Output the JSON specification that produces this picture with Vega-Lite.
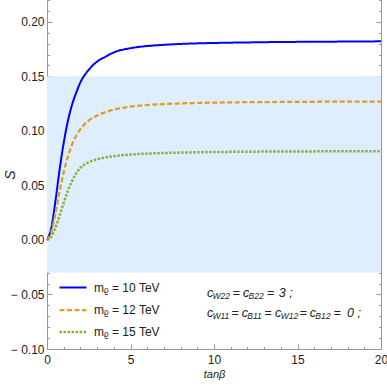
{
  "$schema": "https://vega.github.io/schema/vega-lite/v6.json",
  "width": 334,
  "height": 349,
  "autosize": "none",
  "padding": {"left": 47, "top": 0, "right": 6, "bottom": 38},
  "background": "white",
  "config": {"view": {"stroke": null}, "font": "Liberation Sans"},
  "datasets": {
    "band": [{"x0": 0, "x1": 20, "lo": -0.03, "hi": 0.15}],
    "curves": [
      {"t": 0, "S": 0, "m": "10"}, {"t": 0.25, "S": 0.0105, "m": "10"}, {"t": 0.5, "S": 0.035, "m": "10"}, {"t": 0.75, "S": 0.064, "m": "10"}, {"t": 1, "S": 0.089, "m": "10"}, {"t": 1.25, "S": 0.109, "m": "10"}, {"t": 1.5, "S": 0.124, "m": "10"}, {"t": 1.75, "S": 0.135, "m": "10"}, {"t": 2, "S": 0.1445, "m": "10"}, {"t": 2.5, "S": 0.156, "m": "10"}, {"t": 3, "S": 0.1635, "m": "10"}, {"t": 3.5, "S": 0.168, "m": "10"}, {"t": 4, "S": 0.172, "m": "10"}, {"t": 5, "S": 0.1758, "m": "10"}, {"t": 6, "S": 0.1778, "m": "10"}, {"t": 7, "S": 0.1789, "m": "10"}, {"t": 8, "S": 0.1797, "m": "10"}, {"t": 10, "S": 0.1806, "m": "10"}, {"t": 12, "S": 0.1811, "m": "10"}, {"t": 14, "S": 0.1815, "m": "10"}, {"t": 16, "S": 0.1817, "m": "10"}, {"t": 18, "S": 0.1819, "m": "10"}, {"t": 20, "S": 0.1821, "m": "10"},
      {"t": 0, "S": 0, "m": "12"}, {"t": 0.25, "S": 0.0065, "m": "12"}, {"t": 0.5, "S": 0.024, "m": "12"}, {"t": 0.75, "S": 0.044, "m": "12"}, {"t": 1, "S": 0.062, "m": "12"}, {"t": 1.25, "S": 0.0765, "m": "12"}, {"t": 1.5, "S": 0.0875, "m": "12"}, {"t": 1.75, "S": 0.0955, "m": "12"}, {"t": 2, "S": 0.1015, "m": "12"}, {"t": 2.5, "S": 0.1095, "m": "12"}, {"t": 3, "S": 0.114, "m": "12"}, {"t": 3.5, "S": 0.1172, "m": "12"}, {"t": 4, "S": 0.1195, "m": "12"}, {"t": 5, "S": 0.1222, "m": "12"}, {"t": 6, "S": 0.1237, "m": "12"}, {"t": 7, "S": 0.1246, "m": "12"}, {"t": 8, "S": 0.1252, "m": "12"}, {"t": 10, "S": 0.1259, "m": "12"}, {"t": 12, "S": 0.1263, "m": "12"}, {"t": 14, "S": 0.1265, "m": "12"}, {"t": 16, "S": 0.1267, "m": "12"}, {"t": 18, "S": 0.1268, "m": "12"}, {"t": 20, "S": 0.1269, "m": "12"},
      {"t": 0, "S": 0, "m": "15"}, {"t": 0.25, "S": 0.003, "m": "15"}, {"t": 0.5, "S": 0.011, "m": "15"}, {"t": 0.75, "S": 0.022, "m": "15"}, {"t": 1, "S": 0.034, "m": "15"}, {"t": 1.25, "S": 0.045, "m": "15"}, {"t": 1.5, "S": 0.054, "m": "15"}, {"t": 1.75, "S": 0.061, "m": "15"}, {"t": 2, "S": 0.066, "m": "15"}, {"t": 2.5, "S": 0.0712, "m": "15"}, {"t": 3, "S": 0.074, "m": "15"}, {"t": 3.5, "S": 0.0757, "m": "15"}, {"t": 4, "S": 0.0768, "m": "15"}, {"t": 5, "S": 0.0783, "m": "15"}, {"t": 6, "S": 0.0792, "m": "15"}, {"t": 7, "S": 0.0797, "m": "15"}, {"t": 8, "S": 0.0801, "m": "15"}, {"t": 10, "S": 0.0806, "m": "15"}, {"t": 12, "S": 0.0809, "m": "15"}, {"t": 14, "S": 0.0811, "m": "15"}, {"t": 16, "S": 0.0812, "m": "15"}, {"t": 18, "S": 0.0813, "m": "15"}, {"t": 20, "S": 0.0814, "m": "15"}
    ]
  },
  "layer": [
    {
      "data": {"name": "band"},
      "mark": {"type": "rect", "color": "#DEEEFC"},
      "encoding": {
        "x": {"field": "x0", "type": "quantitative", "scale": {"domain": [0, 20], "nice": false, "zero": false},
          "axis": {"orient": "bottom", "values": [0, 5, 10, 15, 20], "format": "d", "tickSize": -5,
            "domainColor": "#999", "tickColor": "#999", "labelColor": "#222", "labelFont": "Liberation Sans", "labelFontSize": 12,
            "labelFlush": false, "labelOverlap": false, "labelPadding": 10, "grid": false,
            "title": "tanβ", "titleFont": "Liberation Sans", "titleFontSize": 11, "titleFontStyle": "italic", "titleFontWeight": "normal", "titleColor": "#222", "titlePadding": 3}},
        "x2": {"field": "x1"},
        "y": {"field": "lo", "type": "quantitative", "scale": {"domain": [-0.1, 0.22], "nice": false, "zero": false},
          "axis": {"orient": "left", "values": [-0.1, -0.05, 0, 0.05, 0.1, 0.15, 0.2],
            "labelExpr": "datum.value < -0.001 ? '\u2212 ' + format(-datum.value, '.2f') : format(abs(datum.value), '.2f')",
            "tickSize": -5,
            "domainColor": "#999", "tickColor": "#999", "labelColor": "#222", "labelFont": "Liberation Sans", "labelFontSize": 12,
            "labelFlush": false, "labelOverlap": false, "labelPadding": 8, "grid": false,
            "title": "S", "titleFont": "Liberation Sans", "titleFontSize": 14, "titleFontStyle": "italic", "titleFontWeight": "normal", "titleColor": "#222", "titlePadding": -7}},
        "y2": {"field": "hi"}
      }
    },
    {
      "data": {"name": "curves"},
      "mark": {"type": "line", "interpolate": "monotone", "strokeCap": "butt"},
      "encoding": {
        "x": {"field": "t", "type": "quantitative",
          "axis": {"orient": "bottom", "values": [1,2,3,4,6,7,8,9,11,12,13,14,16,17,18,19], "labels": false, "title": null, "domain": false, "grid": false, "tickSize": -2.5, "tickColor": "#999"}},
        "y": {"field": "S", "type": "quantitative",
          "axis": {"orient": "left", "values": [-0.09,-0.08,-0.07,-0.06,-0.04,-0.03,-0.02,-0.01,0.01,0.02,0.03,0.04,0.06,0.07,0.08,0.09,0.11,0.12,0.13,0.14,0.16,0.17,0.18,0.19,0.21,0.22],
            "labels": false, "title": null, "domain": false, "grid": false, "tickSize": -2.5, "tickColor": "#999"}},
        "color": {"field": "m", "type": "nominal", "scale": {"domain": ["10", "12", "15"], "range": ["#0000FF", "#E19C24", "#8FB032"]},
          "legend": {"orient": "bottom-left", "offset": 11, "padding": 0, "title": null, "symbolType": "stroke", "symbolSize": 729, "rowPadding": 1, "labelOffset": 6,
            "labelFont": "Liberation Sans", "labelFontSize": 12, "labelColor": "#222", "labelExpr": "'m\u1d68 = ' + datum.label + ' TeV'"}},
        "strokeDash": {"field": "m", "type": "nominal", "scale": {"domain": ["10", "12", "15"], "range": [[1, 0], [5, 2.5], [2.5, 1.5]]},
          "legend": {"orient": "bottom-left", "offset": 11, "padding": 0, "title": null, "symbolType": "stroke", "symbolSize": 729, "rowPadding": 1, "labelOffset": 6,
            "labelFont": "Liberation Sans", "labelFontSize": 12, "labelColor": "#222", "labelExpr": "'m\u1d68 = ' + datum.label + ' TeV'"}},
        "strokeWidth": {"field": "m", "type": "nominal", "scale": {"domain": ["10", "12", "15"], "range": [2, 2.5, 3]},
          "legend": {"orient": "bottom-left", "offset": 11, "padding": 0, "title": null, "symbolType": "stroke", "symbolSize": 729, "rowPadding": 1, "labelOffset": 6,
            "labelFont": "Liberation Sans", "labelFontSize": 12, "labelColor": "#222", "labelExpr": "'m\u1d68 = ' + datum.label + ' TeV'"}}
      }
    },
    {
      "data": {"values": [{}]},
      "layer": [
        {"mark": {"type": "text", "text": "c", "align": "left", "baseline": "middle", "font": "Liberation Sans", "fontSize": 12.5, "fontStyle": "italic", "color": "#222"}, "encoding": {"x": {"datum": 9.58, "type": "quantitative", "axis": null}, "y": {"datum": -0.0486, "type": "quantitative", "axis": {"orient": "right", "values": [-0.1, -0.05, 0, 0.05, 0.1, 0.15, 0.2], "labels": false, "title": null, "grid": false, "tickSize": -5, "tickColor": "#999", "domainColor": "#999"}}}},
        {"mark": {"type": "text", "text": "W22", "align": "left", "baseline": "middle", "font": "Liberation Sans", "fontSize": 8.5, "fontStyle": "italic", "color": "#222"}, "encoding": {"x": {"datum": 9.91, "type": "quantitative", "axis": null}, "y": {"datum": -0.0514, "type": "quantitative", "axis": {"orient": "right", "values": [-0.09,-0.08,-0.07,-0.06,-0.04,-0.03,-0.02,-0.01,0.01,0.02,0.03,0.04,0.06,0.07,0.08,0.09,0.11,0.12,0.13,0.14,0.16,0.17,0.18,0.19,0.21,0.22], "labels": false, "title": null, "domain": false, "grid": false, "tickSize": -2.5, "tickColor": "#999"}}}},
        {"mark": {"type": "text", "text": "=", "align": "left", "baseline": "middle", "font": "Liberation Sans", "fontSize": 12.5, "color": "#222"}, "encoding": {"x": {"datum": 11.12, "type": "quantitative", "axis": null}, "y": {"datum": -0.0486, "type": "quantitative", "axis": null}}},
        {"mark": {"type": "text", "text": "c", "align": "left", "baseline": "middle", "font": "Liberation Sans", "fontSize": 12.5, "fontStyle": "italic", "color": "#222"}, "encoding": {"x": {"datum": 11.74, "type": "quantitative", "axis": null}, "y": {"datum": -0.0486, "type": "quantitative", "axis": null}}},
        {"mark": {"type": "text", "text": "B22", "align": "left", "baseline": "middle", "font": "Liberation Sans", "fontSize": 8.5, "fontStyle": "italic", "color": "#222"}, "encoding": {"x": {"datum": 12.07, "type": "quantitative", "axis": null}, "y": {"datum": -0.0514, "type": "quantitative", "axis": null}}},
        {"mark": {"type": "text", "text": "=", "align": "left", "baseline": "middle", "font": "Liberation Sans", "fontSize": 12.5, "color": "#222"}, "encoding": {"x": {"datum": 13.17, "type": "quantitative", "axis": null}, "y": {"datum": -0.0486, "type": "quantitative", "axis": null}}},
        {"mark": {"type": "text", "text": "3 ;", "align": "left", "baseline": "middle", "font": "Liberation Sans", "fontSize": 12.5, "fontStyle": "italic", "color": "#222"}, "encoding": {"x": {"datum": 13.88, "type": "quantitative", "axis": null}, "y": {"datum": -0.0486, "type": "quantitative", "axis": null}}},
        {"mark": {"type": "text", "text": "c", "align": "left", "baseline": "middle", "font": "Liberation Sans", "fontSize": 12.5, "fontStyle": "italic", "color": "#222"}, "encoding": {"x": {"datum": 9.58, "type": "quantitative", "axis": null}, "y": {"datum": -0.067, "type": "quantitative", "axis": null}}},
        {"mark": {"type": "text", "text": "W11", "align": "left", "baseline": "middle", "font": "Liberation Sans", "fontSize": 8.5, "fontStyle": "italic", "color": "#222"}, "encoding": {"x": {"datum": 9.91, "type": "quantitative", "axis": null}, "y": {"datum": -0.0698, "type": "quantitative", "axis": null}}},
        {"mark": {"type": "text", "text": "=", "align": "left", "baseline": "middle", "font": "Liberation Sans", "fontSize": 12.5, "color": "#222"}, "encoding": {"x": {"datum": 11.05, "type": "quantitative", "axis": null}, "y": {"datum": -0.067, "type": "quantitative", "axis": null}}},
        {"mark": {"type": "text", "text": "c", "align": "left", "baseline": "middle", "font": "Liberation Sans", "fontSize": 12.5, "fontStyle": "italic", "color": "#222"}, "encoding": {"x": {"datum": 11.66, "type": "quantitative", "axis": null}, "y": {"datum": -0.067, "type": "quantitative", "axis": null}}},
        {"mark": {"type": "text", "text": "B11", "align": "left", "baseline": "middle", "font": "Liberation Sans", "fontSize": 8.5, "fontStyle": "italic", "color": "#222"}, "encoding": {"x": {"datum": 11.99, "type": "quantitative", "axis": null}, "y": {"datum": -0.0698, "type": "quantitative", "axis": null}}},
        {"mark": {"type": "text", "text": "=", "align": "left", "baseline": "middle", "font": "Liberation Sans", "fontSize": 12.5, "color": "#222"}, "encoding": {"x": {"datum": 13.03, "type": "quantitative", "axis": null}, "y": {"datum": -0.067, "type": "quantitative", "axis": null}}},
        {"mark": {"type": "text", "text": "c", "align": "left", "baseline": "middle", "font": "Liberation Sans", "fontSize": 12.5, "fontStyle": "italic", "color": "#222"}, "encoding": {"x": {"datum": 13.66, "type": "quantitative", "axis": null}, "y": {"datum": -0.067, "type": "quantitative", "axis": null}}},
        {"mark": {"type": "text", "text": "W12", "align": "left", "baseline": "middle", "font": "Liberation Sans", "fontSize": 8.5, "fontStyle": "italic", "color": "#222"}, "encoding": {"x": {"datum": 13.99, "type": "quantitative", "axis": null}, "y": {"datum": -0.0698, "type": "quantitative", "axis": null}}},
        {"mark": {"type": "text", "text": "=", "align": "left", "baseline": "middle", "font": "Liberation Sans", "fontSize": 12.5, "color": "#222"}, "encoding": {"x": {"datum": 15.13, "type": "quantitative", "axis": null}, "y": {"datum": -0.067, "type": "quantitative", "axis": null}}},
        {"mark": {"type": "text", "text": "c", "align": "left", "baseline": "middle", "font": "Liberation Sans", "fontSize": 12.5, "fontStyle": "italic", "color": "#222"}, "encoding": {"x": {"datum": 15.74, "type": "quantitative", "axis": null}, "y": {"datum": -0.067, "type": "quantitative", "axis": null}}},
        {"mark": {"type": "text", "text": "B12", "align": "left", "baseline": "middle", "font": "Liberation Sans", "fontSize": 8.5, "fontStyle": "italic", "color": "#222"}, "encoding": {"x": {"datum": 16.07, "type": "quantitative", "axis": null}, "y": {"datum": -0.0698, "type": "quantitative", "axis": null}}},
        {"mark": {"type": "text", "text": "=", "align": "left", "baseline": "middle", "font": "Liberation Sans", "fontSize": 12.5, "color": "#222"}, "encoding": {"x": {"datum": 17.17, "type": "quantitative", "axis": null}, "y": {"datum": -0.067, "type": "quantitative", "axis": null}}},
        {"mark": {"type": "text", "text": "0 ;", "align": "left", "baseline": "middle", "font": "Liberation Sans", "fontSize": 12.5, "fontStyle": "italic", "color": "#222"}, "encoding": {"x": {"datum": 17.97, "type": "quantitative", "axis": null}, "y": {"datum": -0.067, "type": "quantitative", "axis": null}}}
      ],
      "resolve": {"axis": {"y": "independent"}}
    }
  ],
  "resolve": {"axis": {"x": "independent", "y": "independent"}}
}
